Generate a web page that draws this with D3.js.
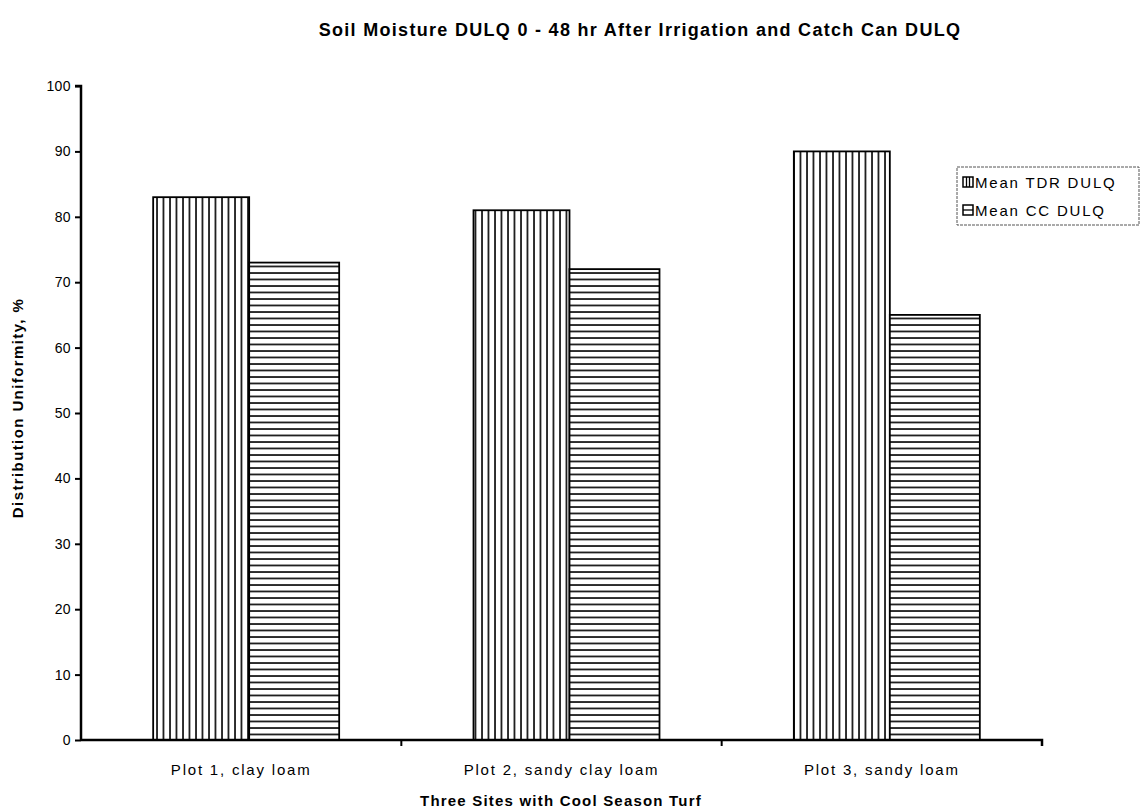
<!DOCTYPE html>
<html><head><meta charset="utf-8">
<script src="https://cdn.jsdelivr.net/npm/d3@7/dist/d3.min.js"></script>
<style>body{margin:0;background:#fff}text{font-family:"Liberation Sans",Arial,sans-serif;fill:#000}</style>
</head><body><svg id="c" width="1141" height="812"></svg>
<script>
const categories = ["Plot 1, clay loam","Plot 2, sandy clay loam","Plot 3, sandy loam"];
const seriesNames = ["Mean TDR DULQ","Mean CC DULQ"];
const tdrValues = [83, 81, 90];
const ccValues = [73, 72, 65];
const yTicks = [0,10,20,30,40,50,60,70,80,90,100];

const svg = d3.select("#c");
const m = {l:81, r:1042, t:86, b:740};
const x = d3.scaleBand().domain(categories).range([m.l, m.r]).paddingInner(0).paddingOuter(0);
const y = d3.scaleLinear().domain([0,100]).range([m.b, m.t]);
const barW = [96, 90];
const splitOffset = 8;

const defs = svg.append("defs");
const pv = defs.append("pattern").attr("id","pv").attr("patternUnits","userSpaceOnUse").attr("width",6.5).attr("height",10);
pv.append("rect").attr("width",6.5).attr("height",10).attr("fill","#fff");
pv.append("line").attr("x1",1).attr("x2",1).attr("y1",0).attr("y2",10).attr("stroke","#000").attr("stroke-width",1.6);
const ph = defs.append("pattern").attr("id","ph").attr("patternUnits","userSpaceOnUse").attr("width",10).attr("height",6.5).attr("y",m.b);
ph.append("rect").attr("width",10).attr("height",6.5).attr("fill","#fff");
ph.append("line").attr("x1",0).attr("x2",10).attr("y1",1).attr("y2",1).attr("stroke","#000").attr("stroke-width",1.6);

const data = categories.map((c,i)=>({c, v:[tdrValues[i], ccValues[i]]}));
const g = svg.append("g");
data.forEach(d=>{
  const cx = x(d.c) + x.bandwidth()/2 + splitOffset;
  d.v.forEach((v,j)=>{
    const x0 = j===0 ? cx - barW[0] : cx;
    g.append("rect").attr("x",x0).attr("y",y(v)).attr("width",barW[j]).attr("height",y(0)-y(v))
      .attr("fill", j===0 ? "url(#pv)" : "url(#ph)").attr("stroke","#000").attr("stroke-width",1.8);
  });
});

// axes
const ya = svg.append("g").attr("transform",`translate(${m.l},0)`)
  .call(d3.axisLeft(y).tickValues(yTicks).tickSize(6).tickPadding(4));
ya.select(".domain").attr("stroke","#000").attr("stroke-width",2.5).attr("d",`M-6,${m.t}H0V${m.b}`);
ya.selectAll(".tick line").attr("stroke","#000").attr("stroke-width",2);
ya.selectAll(".tick text").attr("font-size",14).attr("letter-spacing",0.4).attr("font-family","Liberation Sans, Arial, sans-serif");

const xa = svg.append("g").attr("transform",`translate(0,${m.b})`)
  .call(d3.axisBottom(x).tickSize(0).tickPadding(24));
xa.select(".domain").attr("stroke","#000").attr("stroke-width",2.5).attr("d",`M${m.l},0H${m.r}V6`);
xa.selectAll(".tick text").attr("font-size",15).attr("letter-spacing",1.8).attr("font-family","Liberation Sans, Arial, sans-serif");
categories.slice(1).forEach(c=>{
  xa.append("line").attr("x1",x(c)).attr("x2",x(c)).attr("y1",0).attr("y2",6).attr("stroke","#000").attr("stroke-width",2);
});

// titles
svg.append("text").attr("x",640).attr("y",36).attr("text-anchor","middle").attr("font-size",18).attr("font-weight","bold")
  .attr("letter-spacing",1.3).text("Soil Moisture DULQ 0 - 48 hr After Irrigation and Catch Can DULQ");
svg.append("text").attr("transform","translate(23,408) rotate(-90)").attr("text-anchor","middle").attr("font-size",15)
  .attr("font-weight","bold").attr("letter-spacing",1.4).text("Distribution Uniformity, %");
svg.append("text").attr("x",561).attr("y",806).attr("text-anchor","middle").attr("font-size",15).attr("font-weight","bold")
  .attr("letter-spacing",1.2).text("Three Sites with Cool Season Turf");

// legend
const lg = svg.append("g").attr("transform","translate(957,167)");
lg.append("rect").attr("width",182).attr("height",58).attr("fill","#fff").attr("stroke","#555").attr("stroke-width",1).attr("stroke-dasharray","3,1");
seriesNames.forEach((s,i)=>{
  const yy = 15 + i*28;
  lg.append("rect").attr("x",6).attr("y",yy-5).attr("width",10).attr("height",10).attr("fill","#fff").attr("stroke","#000").attr("stroke-width",1.5);
  if(i===0){
    [9.5,12.5].forEach(xx=>lg.append("line").attr("x1",xx).attr("x2",xx).attr("y1",yy-5).attr("y2",yy+5).attr("stroke","#000").attr("stroke-width",1.3));
  } else {
    lg.append("line").attr("x1",6).attr("x2",16).attr("y1",yy).attr("y2",yy).attr("stroke","#000").attr("stroke-width",1.3);
  }
  lg.append("text").attr("x",18).attr("y",yy+6).attr("font-size",15).attr("letter-spacing",1.8).text(s);
});
</script></body></html>
